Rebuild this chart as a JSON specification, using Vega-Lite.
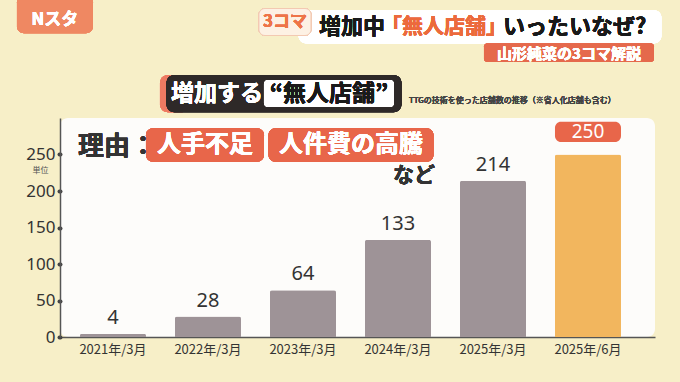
{
  "$schema": "https://vega.github.io/schema/vega-lite/v6.json",
  "autosize": "none",
  "width": 595,
  "height": 219,
  "padding": {"left": 60, "top": 118, "right": 25, "bottom": 45},
  "background": "#f7efc8",
  "view": {"fill": "#fdfcfa", "stroke": null, "cornerRadius": 8},
  "config": {"font": "Noto Sans CJK JP"},
  "data": {"values": [
    {"period": "2021年/3月", "stores": 4},
    {"period": "2022年/3月", "stores": 28},
    {"period": "2023年/3月", "stores": 64},
    {"period": "2024年/3月", "stores": 133},
    {"period": "2025年/3月", "stores": 214},
    {"period": "2025年/6月", "stores": 250}
  ]},
  "layer": [
    {
      "mark": {"type": "bar", "cornerRadiusTopLeft": 2, "cornerRadiusTopRight": 2},
      "encoding": {
        "x": {"field": "period", "type": "nominal", "sort": null,
          "scale": {"paddingInner": 0.305, "paddingOuter": 0.284, "align": 0.37},
          "axis": {"title": null, "labelAngle": 0, "labelFontSize": 13, "labelColor": "#333333", "labelPadding": 6, "ticks": false, "domainColor": "#555555", "domainWidth": 1.5}},
        "y": {"field": "stores", "type": "quantitative",
          "scale": {"domain": [0, 300], "nice": false},
          "axis": {"values": [0, 50, 100, 150, 200, 250], "grid": false, "labelFontSize": 17, "labelColor": "#333333", "labelPadding": 4, "labelFont": "Noto Sans",
            "tickSize": 1, "tickWidth": 4, "tickCap": "round", "tickColor": "#444444",
            "domainColor": "#555555", "domainWidth": 1.5,
            "title": "単位", "titleAngle": 0, "titleFontSize": 8, "titleFontWeight": "normal", "titleColor": "#555555", "titleX": -20, "titleY": 52, "titleAlign": "center", "titleBaseline": "middle"}},
        "color": {"condition": {"test": "datum.period === '2025年/6月'", "value": "#f2b65e"}, "value": "#9e9397"}
      }
    },
    {
      "transform": [{"filter": "datum.period !== '2025年/6月'"}],
      "mark": {"type": "text", "baseline": "bottom", "dy": -6, "fontSize": 20, "color": "#333333", "font": "Noto Sans"},
      "encoding": {
        "x": {"field": "period", "type": "nominal", "sort": null},
        "y": {"field": "stores", "type": "quantitative", "scale": {"domain": [0, 300], "nice": false}},
        "text": {"field": "stores"}
      }
    },
    {
      "transform": [{"filter": "datum.period === '2025年/6月'"}],
      "mark": {"type": "bar", "color": "#e8664a", "cornerRadius": 6},
      "encoding": {
        "x": {"field": "period", "type": "nominal", "sort": null},
        "y": {"datum": 267, "type": "quantitative", "scale": {"domain": [0, 300], "nice": false}},
        "y2": {"datum": 295}
      }
    },
    {
      "transform": [{"filter": "datum.period === '2025年/6月'"}],
      "mark": {"type": "text", "baseline": "middle", "fontSize": 19, "color": "#ffffff", "font": "Noto Sans"},
      "encoding": {
        "x": {"field": "period", "type": "nominal", "sort": null},
        "y": {"datum": 281, "type": "quantitative", "scale": {"domain": [0, 300], "nice": false}},
        "text": {"field": "stores"}
      }
    },
    {
      "mark": {"type": "bar", "color": "#e8664a", "cornerRadius": 7, "width": 118, "xOffset": -3},
      "encoding": {
        "x": {"datum": "2022年/3月"},
        "y": {"datum": 240, "type": "quantitative", "scale": {"domain": [0, 300], "nice": false}},
        "y2": {"datum": 286}
      }
    },
    {
      "mark": {"type": "bar", "color": "#e8664a", "cornerRadius": 7, "width": 165, "xOffset": 48},
      "encoding": {
        "x": {"datum": "2023年/3月"},
        "y": {"datum": 240, "type": "quantitative", "scale": {"domain": [0, 300], "nice": false}},
        "y2": {"datum": 286}
      }
    },
    {
      "mark": {"type": "text", "color": "#ffffff", "fontSize": 24, "fontWeight": "bold", "baseline": "middle", "xOffset": -3},
      "encoding": {
        "x": {"datum": "2022年/3月"},
        "y": {"datum": 263, "type": "quantitative", "scale": {"domain": [0, 300], "nice": false}},
        "text": {"value": "人手不足"}
      }
    },
    {
      "mark": {"type": "text", "color": "#ffffff", "fontSize": 24, "fontWeight": "bold", "baseline": "middle", "xOffset": 48},
      "encoding": {
        "x": {"datum": "2023年/3月"},
        "y": {"datum": 263, "type": "quantitative", "scale": {"domain": [0, 300], "nice": false}},
        "text": {"value": "人件費の高騰"}
      }
    },
    {
      "mark": {"type": "text", "color": "#333333", "fontSize": 26, "fontWeight": "bold", "baseline": "middle", "align": "left", "xOffset": -35},
      "encoding": {
        "x": {"datum": "2021年/3月"},
        "y": {"datum": 260, "type": "quantitative", "scale": {"domain": [0, 300], "nice": false}},
        "text": {"value": "理由："}
      }
    },
    {
      "mark": {"type": "text", "color": "#333333", "fontSize": 21, "fontWeight": "bold", "baseline": "middle", "xOffset": 16},
      "encoding": {
        "x": {"datum": "2024年/3月"},
        "y": {"datum": 221, "type": "quantitative", "scale": {"domain": [0, 300], "nice": false}},
        "text": {"value": "など"}
      }
    },
    {
      "mark": {"type": "bar", "color": "#ee7a62", "cornerRadius": 8, "width": 30, "xOffset": -128},
      "encoding": {
        "x": {"datum": "2023年/3月"},
        "y": {"datum": 308, "type": "quantitative", "scale": {"domain": [0, 300], "nice": false}},
        "y2": {"datum": 359}
      }
    },
    {
      "mark": {"type": "bar", "color": "#2e2928", "cornerRadius": 8, "width": 235, "xOffset": -19},
      "encoding": {
        "x": {"datum": "2023年/3月"},
        "y": {"datum": 308, "type": "quantitative", "scale": {"domain": [0, 300], "nice": false}},
        "y2": {"datum": 359}
      }
    },
    {
      "mark": {"type": "bar", "color": "#ffffff", "cornerRadius": 4, "width": 130, "xOffset": 26},
      "encoding": {
        "x": {"datum": "2023年/3月"},
        "y": {"datum": 315, "type": "quantitative", "scale": {"domain": [0, 300], "nice": false}},
        "y2": {"datum": 352}
      }
    },
    {
      "mark": {"type": "text", "color": "#ffffff", "fontSize": 23, "fontWeight": "bold", "baseline": "middle", "xOffset": 9},
      "encoding": {
        "x": {"datum": "2022年/3月"},
        "y": {"datum": 333, "type": "quantitative", "scale": {"domain": [0, 300], "nice": false}},
        "text": {"value": "増加する"}
      }
    },
    {
      "mark": {"type": "text", "color": "#1a1a1a", "fontSize": 23, "fontWeight": "bold", "baseline": "middle", "xOffset": 26},
      "encoding": {
        "x": {"datum": "2023年/3月"},
        "y": {"datum": 333, "type": "quantitative", "scale": {"domain": [0, 300], "nice": false}},
        "text": {"value": "“無人店舗”"}
      }
    },
    {
      "mark": {"type": "text", "color": "#444444", "fontSize": 8, "baseline": "middle", "align": "left", "xOffset": 11},
      "encoding": {
        "x": {"datum": "2024年/3月"},
        "y": {"datum": 323, "type": "quantitative", "scale": {"domain": [0, 300], "nice": false}},
        "text": {"value": "TTGの技術を使った店舗数の推移（※省人化店舗も含む）"}
      }
    },
    {
      "mark": {"type": "bar", "color": "#ffffff", "cornerRadius": 8, "width": 363, "xOffset": -13},
      "encoding": {
        "x": {"datum": "2025年/3月"},
        "y": {"datum": 402, "type": "quantitative", "scale": {"domain": [0, 300], "nice": false}},
        "y2": {"datum": 448}
      }
    },
    {
      "mark": {"type": "text", "color": "#1a1a1a", "fontSize": 22, "fontWeight": "bold", "baseline": "middle", "align": "left", "xOffset": 16},
      "encoding": {
        "x": {"datum": "2023年/3月"},
        "y": {"datum": 424, "type": "quantitative", "scale": {"domain": [0, 300], "nice": false}},
        "text": {"value": "増加中"}
      }
    },
    {
      "mark": {"type": "text", "color": "#ec6a3c", "fontSize": 21, "fontWeight": "bold", "baseline": "middle", "xOffset": 46},
      "encoding": {
        "x": {"datum": "2024年/3月"},
        "y": {"datum": 424, "type": "quantitative", "scale": {"domain": [0, 300], "nice": false}},
        "text": {"value": "「無人店舗」"}
      }
    },
    {
      "mark": {"type": "text", "color": "#1a1a1a", "fontSize": 22, "fontWeight": "bold", "baseline": "middle", "align": "left", "xOffset": 10},
      "encoding": {
        "x": {"datum": "2025年/3月"},
        "y": {"datum": 424, "type": "quantitative", "scale": {"domain": [0, 300], "nice": false}},
        "text": {"value": "いったいなぜ?"}
      }
    },
    {
      "mark": {"type": "bar", "color": "#e5694c", "cornerRadius": 3, "width": 170, "xOffset": -19},
      "encoding": {
        "x": {"datum": "2025年/6月"},
        "y": {"datum": 377, "type": "quantitative", "scale": {"domain": [0, 300], "nice": false}},
        "y2": {"datum": 402}
      }
    },
    {
      "mark": {"type": "text", "color": "#ffffff", "fontSize": 15, "fontWeight": "bold", "baseline": "middle", "xOffset": -19},
      "encoding": {
        "x": {"datum": "2025年/6月"},
        "y": {"datum": 388, "type": "quantitative", "scale": {"domain": [0, 300], "nice": false}},
        "text": {"value": "山形純菜の3コマ解説"}
      }
    },
    {
      "mark": {"type": "bar", "color": "#fdf1e4", "cornerRadius": 6, "width": 52, "xOffset": -18, "stroke": "#f3c9b2", "strokeWidth": 1},
      "encoding": {
        "x": {"datum": "2023年/3月"},
        "y": {"datum": 413, "type": "quantitative", "scale": {"domain": [0, 300], "nice": false}},
        "y2": {"datum": 450}
      }
    },
    {
      "mark": {"type": "text", "color": "#ee7448", "fontSize": 17, "fontWeight": "bold", "baseline": "middle", "xOffset": -18},
      "encoding": {
        "x": {"datum": "2023年/3月"},
        "y": {"datum": 431, "type": "quantitative", "scale": {"domain": [0, 300], "nice": false}},
        "text": {"value": "3コマ"}
      }
    },
    {
      "mark": {"type": "bar", "color": "#ef8862", "cornerRadius": 7, "width": 76, "xOffset": -58},
      "encoding": {
        "x": {"datum": "2021年/3月"},
        "y": {"datum": 416, "type": "quantitative", "scale": {"domain": [0, 300], "nice": false}},
        "y2": {"datum": 468}
      }
    },
    {
      "mark": {"type": "text", "color": "#ffffff", "fontSize": 17, "fontWeight": "bold", "baseline": "middle", "xOffset": -58},
      "encoding": {
        "x": {"datum": "2021年/3月"},
        "y": {"datum": 434, "type": "quantitative", "scale": {"domain": [0, 300], "nice": false}},
        "text": {"value": "Nスタ"}
      }
    }
  ]
}
